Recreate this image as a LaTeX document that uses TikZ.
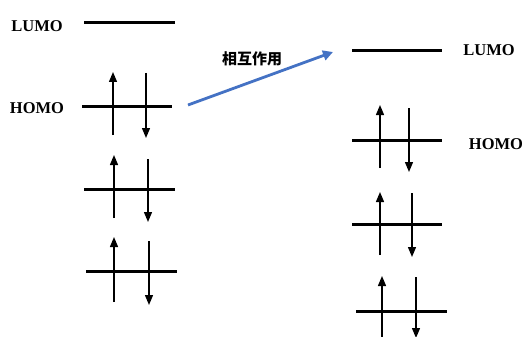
\documentclass[tikz,border=0pt]{standalone}
\usepackage{fontspec}
\setmainfont{Liberation Serif}
\newfontfamily\cjk{Noto Sans CJK SC}
\usetikzlibrary{arrows.meta}
\definecolor{arrowblue}{RGB}{68,114,196}
\tikzset{
  level/.style={line width=3pt},
  spin/.style={line width=1.3pt,-{Triangle[length=10pt,width=8pt]}},
  lbl/.style={font=\fontsize{16.5}{16.5}\selectfont\bfseries, inner sep=0pt},
}
\newcommand{\orb}[4]{% x1, x2, y, name
  \draw[level] (#1,#3) coordinate (#4a) -- (#2,#3) coordinate (#4b);
}
\newcommand{\pair}[6]{% xup, yupbot, yuptop, xdown, ydowntop, ydownbot
  \draw[spin] (#1,#2) -- (#1,#3);
  \draw[spin] (#4,#5) -- (#4,#6);
}
\begin{document}
\begin{tikzpicture}[x=1pt,y=-1pt]
\useasboundingbox (0,0) rectangle (525,337);
% left side
\node[lbl] (L1) at (37,26) {LUMO};
\orb{84}{175}{23}{ll}
\node[lbl] (H1) at (37,108) {HOMO};
\orb{82}{172}{106}{lh}
\pair{113}{135}{72}{146}{73}{138}
\orb{84}{175}{189}{lm}
\pair{114}{218}{155}{148}{159}{222}
\orb{86}{177}{271}{lb}
\pair{114}{302}{237}{149}{241}{305}
% right side
\orb{352}{442}{51}{rl}
\node[lbl] (L2) at (489,50) {LUMO};
\orb{352}{442}{140}{rh}
\node[lbl] (H2) at (496,144) {HOMO};
\pair{380}{168}{105}{409}{108}{172}
\orb{352}{442}{224}{rm}
\pair{380}{255}{192}{412}{193}{257}
\orb{356}{447}{311}{rb}
\pair{382}{340}{276}{416}{277}{338}
% interaction arrow
\coordinate (s) at (188,105);
\coordinate (t) at (333,52);
\draw[arrowblue,line width=2.8pt,-{Triangle[length=10pt,width=10pt]}] (s) -- (t);
\node[font=\cjk\fontsize{15}{15}\selectfont\bfseries, inner sep=0pt] (lab) at (252,59) {相互作用};
\end{tikzpicture}
\end{document}
